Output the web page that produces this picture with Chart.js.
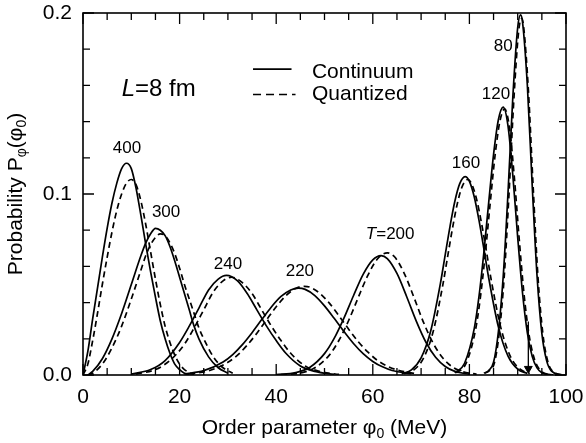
<!DOCTYPE html>
<html>
<head>
<meta charset="utf-8">
<script src="https://cdn.jsdelivr.net/npm/chart.js@4.4.1/dist/chart.umd.min.js"></script>
<style>
  html, body { margin: 0; padding: 0; background: #fff; }
  canvas { display: block; }
</style>
</head>
<body>
<canvas id="prob-chart" width="586" height="443"></canvas>
<script>
// Order-parameter probability P(phi0) for L = 8 fm, one peak per temperature T (MeV).
// "c" = continuum curve (solid), "q" = quantized curve (dashed).
const x400c = [0, 1, 2, 3, 4, 5, 6, 7, 8, 9, 10, 11, 12, 13, 14, 15, 16, 17, 18, 19, 20, 21, 22];
const y400c = [0, 0.013, 0.031, 0.048, 0.065, 0.081, 0.095, 0.106, 0.114, 0.117, 0.114, 0.103, 0.088, 0.072, 0.057, 0.043, 0.030, 0.020, 0.012, 0.006, 0.003, 0.001, 0];
const x400q = [0, 1, 2, 3, 4, 5, 6, 7, 8, 9, 10, 11, 12, 13, 14, 15, 16, 17, 18, 19, 20, 21, 23];
const y400q = [0, 0.006, 0.019, 0.034, 0.050, 0.065, 0.079, 0.091, 0.100, 0.106, 0.108, 0.105, 0.096, 0.083, 0.068, 0.053, 0.039, 0.027, 0.018, 0.011, 0.006, 0.003, 0];

const x300c = [1, 2, 4, 6, 8, 10, 12, 13, 14, 15, 16, 17, 18, 19, 20, 21, 22, 23, 24, 26, 28, 30];
const y300c = [0, 0.002, 0.009, 0.020, 0.034, 0.050, 0.066, 0.073, 0.078, 0.081, 0.080, 0.077, 0.071, 0.063, 0.054, 0.045, 0.036, 0.027, 0.020, 0.010, 0.004, 0.001];
const x300q = [1, 2, 4, 6, 8, 10, 12, 13, 14, 15, 16, 17, 18, 19, 20, 21, 22, 23, 24, 25, 27, 29, 31];
const y300q = [0, 0.001, 0.006, 0.015, 0.027, 0.042, 0.058, 0.066, 0.072, 0.076, 0.078, 0.077, 0.073, 0.067, 0.059, 0.050, 0.042, 0.034, 0.026, 0.020, 0.010, 0.004, 0.001];

const x240c = [10, 14, 17, 20, 22, 24, 26, 28, 29.7, 32, 34, 36, 38, 40, 42, 45, 48, 52];
const y240c = [0.0005, 0.003, 0.008, 0.018, 0.027, 0.037, 0.047, 0.053, 0.055, 0.052, 0.045, 0.036, 0.027, 0.019, 0.012, 0.005, 0.002, 0.0003];
const x240q = [11, 15, 18, 21, 23, 25, 27, 29, 30.8, 33, 35, 37, 39, 41, 43, 46, 49, 53];
const y240q = [0.0005, 0.003, 0.008, 0.017, 0.026, 0.036, 0.046, 0.052, 0.054, 0.051, 0.045, 0.036, 0.027, 0.019, 0.012, 0.005, 0.002, 0.0003];

const x220c = [21, 25, 29, 31, 33, 35, 37, 39, 41, 43, 44.6, 46, 48, 50, 52, 54, 56, 58, 60, 62, 64, 68];
const y220c = [0.0006, 0.0024, 0.0072, 0.0113, 0.0168, 0.0234, 0.0306, 0.0376, 0.0434, 0.047, 0.048, 0.0473, 0.0439, 0.0382, 0.0313, 0.0241, 0.0174, 0.0118, 0.0075, 0.0045, 0.0025, 0.0007];
const x220q = [22, 26, 30, 32, 34, 36, 38, 40, 42, 44, 45.8, 47, 49, 51, 53, 55, 57, 59, 61, 63, 65, 69];
const y220q = [0.0005, 0.0023, 0.007, 0.011, 0.0165, 0.0231, 0.0305, 0.0377, 0.0438, 0.0478, 0.049, 0.0485, 0.0452, 0.0397, 0.0327, 0.0253, 0.0184, 0.0126, 0.008, 0.0049, 0.0028, 0.0007];

const x200c = [40, 44, 47, 50, 52, 54, 56, 58, 60, 61.7, 63, 65, 67, 69, 71, 73, 75, 77, 80];
const y200c = [0.0002, 0.0013, 0.0043, 0.0118, 0.0202, 0.0313, 0.0438, 0.0556, 0.0636, 0.066, 0.0643, 0.0561, 0.0434, 0.0298, 0.0181, 0.0098, 0.0047, 0.002, 0.0004];
const x200q = [41, 45, 48, 51, 53, 55, 57, 59, 61, 63, 64.5, 66.5, 68.5, 70.5, 72.5, 74.5, 76.5, 78.5, 81.5];
const y200q = [0.0002, 0.0011, 0.004, 0.011, 0.0192, 0.0301, 0.0429, 0.0552, 0.0642, 0.0675, 0.0653, 0.0562, 0.043, 0.0291, 0.0175, 0.0094, 0.0044, 0.0019, 0.0004];

const x160c = [66, 68, 70, 72, 74, 75, 76, 77, 78, 79.1, 80, 81, 82, 83, 84, 86, 88, 90, 92];
const y160c = [0.0007, 0.0028, 0.0094, 0.0244, 0.0506, 0.0665, 0.0823, 0.0961, 0.1057, 0.1096, 0.107, 0.0985, 0.0853, 0.0697, 0.0536, 0.0266, 0.0104, 0.0032, 0.0008];
const x160q = [66.5, 68.5, 70.5, 72.5, 74.5, 75.5, 76.5, 77.5, 78.5, 79.7, 80.5, 81.5, 82.5, 83.5, 84.5, 86.5, 88.5, 90.5, 92.5];
const y160q = [0.0007, 0.0028, 0.0093, 0.024, 0.0498, 0.0655, 0.0811, 0.0947, 0.1041, 0.108, 0.1054, 0.097, 0.084, 0.0687, 0.0528, 0.0262, 0.0102, 0.0032, 0.0008];

const x120c = [77, 79, 81, 82, 83, 84, 85, 86, 87, 88, 89, 90, 91, 92, 93, 94, 95, 97];
const y120c = [0.0011, 0.0065, 0.0256, 0.0437, 0.0678, 0.0954, 0.1218, 0.141, 0.148, 0.1375, 0.110, 0.076, 0.0453, 0.0233, 0.0103, 0.0039, 0.0013, 0.0001];
const x120q = [77.3, 79.3, 81.3, 82.3, 83.3, 84.3, 85.3, 86.3, 87.3, 88.3, 89.3, 90.3, 91.3, 92.3, 93.3, 94.3, 95.3, 97.3];
const y120q = [0.0011, 0.0064, 0.0254, 0.0434, 0.0673, 0.0948, 0.121, 0.140, 0.147, 0.1366, 0.1093, 0.0755, 0.045, 0.0231, 0.0102, 0.0039, 0.0013, 0.0001];

const x80c = [83, 84, 85, 86, 87, 88, 89, 90, 90.6, 91, 92, 93, 94, 95, 96, 97, 99];
const y80c = [0.001, 0.0025, 0.007, 0.0239, 0.0544, 0.101, 0.154, 0.192, 0.199, 0.195, 0.160, 0.105, 0.055, 0.023, 0.0078, 0.0021, 0.0001];
const x80q = [83.2, 84.2, 85.2, 86.2, 87.2, 88.2, 89.2, 90.2, 90.8, 91.2, 92.2, 93.2, 94.2, 95.2, 96.2, 97.2, 99.2];
const y80q = [0.001, 0.0025, 0.0069, 0.0237, 0.054, 0.1, 0.152, 0.19, 0.197, 0.193, 0.158, 0.104, 0.054, 0.023, 0.0077, 0.0021, 0.0001];

// small down arrow near the 80 MeV peak
const arrowX = [92.2, 92.2];
const arrowY = [0.0295, 0.0035];

// peak labels (T in MeV) and where they sit, in data units
const peakText = ['400', '300', '240', '220', 'T=200', '160', '120', '80'];
const peakX = [9.1, 17.2, 30.0, 44.9, 63.6, 79.3, 85.5, 87.0];
const peakY = [0.1254, 0.090, 0.0613, 0.0575, 0.0779, 0.1171, 0.1552, 0.1818];

const xTicks = [0, 20, 40, 60, 80, 100];
const yTicks = [0.0, 0.1, 0.2];

const FONT = '"Liberation Sans", Arial, Helvetica, sans-serif';

const curves = [
  [x400c, y400c, x400q, y400q],
  [x300c, y300c, x300q, y300q],
  [x240c, y240c, x240q, y240q],
  [x220c, y220c, x220q, y220q],
  [x200c, y200c, x200q, y200q],
  [x160c, y160c, x160q, y160q],
  [x120c, y120c, x120q, y120q],
  [x80c, y80c, x80q, y80q]
];

const pts = (xs, ys) => xs.map((x, i) => ({ x: x, y: ys[i] }));

const datasets = [];
curves.forEach(([xc, yc, xq, yq]) => {
  datasets.push({ data: pts(xc, yc), borderColor: '#000', borderWidth: 1.7 });
  datasets.push({ data: pts(xq, yq), borderColor: '#000', borderWidth: 1.7, borderDash: [6, 4] });
});
datasets.push({
  data: pts(arrowX, arrowY),
  borderColor: '#000',
  borderWidth: 1.3,
  cubicInterpolationMode: 'default',
  tension: 0,
  pointStyle: 'triangle',
  pointRotation: 180,
  pointRadius: [0, 4.5],
  pointBackgroundColor: '#000',
  pointBorderColor: '#000',
  pointBorderWidth: 1
});

// frame, inward ticks, axis titles, legend and labels
const decor = {
  id: 'decor',
  afterDatasetsDraw(chart) {
    const { ctx, chartArea: a, scales: { x, y } } = chart;
    ctx.save();
    ctx.strokeStyle = '#000';
    ctx.fillStyle = '#000';
    ctx.lineWidth = 1.6;
    ctx.strokeRect(a.left, a.top, a.right - a.left, a.bottom - a.top);

    ctx.lineWidth = 1.3;
    ctx.beginPath();
    for (let v = 0; v <= 100; v += 5) {
      const px = x.getPixelForValue(v);
      const len = v % 20 === 0 ? 11 : 7;
      ctx.moveTo(px, a.bottom); ctx.lineTo(px, a.bottom - len);
      ctx.moveTo(px, a.top); ctx.lineTo(px, a.top + len);
    }
    for (let i = 0; i <= 10; i++) {
      const py = y.getPixelForValue(i * 0.02);
      const len = i % 5 === 0 ? 11 : 7;
      ctx.moveTo(a.left, py); ctx.lineTo(a.left + len, py);
      ctx.moveTo(a.right, py); ctx.lineTo(a.right - len, py);
    }
    ctx.stroke();

    // draws a run of [text, size, dy, italic] pieces from (x0, y0) along the baseline
    const run = (parts, x0, y0, measureOnly) => {
      let cx = x0;
      parts.forEach(([t, size, dy, it]) => {
        ctx.font = (it ? 'italic ' : '') + size + 'px ' + FONT;
        if (!measureOnly) ctx.fillText(t, cx, y0 + dy);
        cx += ctx.measureText(t).width;
      });
      return cx - x0;
    };
    ctx.textBaseline = 'alphabetic';
    ctx.textAlign = 'left';

    // x title
    const xt = [['Order parameter \u03c6', 21, 0], ['0', 14, 4], [' (MeV)', 21, 0]];
    const xw = run(xt, 0, 0, true);
    run(xt, (a.left + a.right) / 2 - xw / 2, 434);

    // y title, rotated
    const yt = [['Probability P', 21, 0], ['\u03c6', 14, 4], ['(\u03c6', 21, 0], ['0', 14, 4], [')', 21, 0]];
    const yw = run(yt, 0, 0, true);
    ctx.save();
    ctx.translate(22, (a.top + a.bottom) / 2);
    ctx.rotate(-Math.PI / 2);
    run(yt, -yw / 2, 0);
    ctx.restore();

    // L = 8 fm
    run([['L', 24, 0, true], ['=8 fm', 24, 0]], x.getPixelForValue(8), y.getPixelForValue(0.154));

    // legend
    const lx0 = x.getPixelForValue(35.2), lx1 = x.getPixelForValue(44.0);
    const ly1 = y.getPixelForValue(0.169), ly2 = y.getPixelForValue(0.155);
    ctx.lineWidth = 1.6;
    ctx.beginPath(); ctx.moveTo(lx0, ly1); ctx.lineTo(lx1 - 4, ly1); ctx.stroke();
    ctx.setLineDash([8, 5]);
    ctx.beginPath(); ctx.moveTo(lx0, ly2); ctx.lineTo(lx1, ly2); ctx.stroke();
    ctx.setLineDash([]);
    const tx = x.getPixelForValue(47.4);
    run([['Continuum', 21, 0]], tx, ly1 + 8.5);
    run([['Quantized', 21, 0]], tx, ly2 + 6);

    // peak labels
    ctx.textBaseline = 'middle';
    peakText.forEach((t, i) => {
      const parts = t.startsWith('T') ? [['T', 17, 0, true], [t.slice(1), 17, 0]] : [[t, 17, 0]];
      const w = run(parts, 0, 0, true);
      run(parts, x.getPixelForValue(peakX[i]) - w / 2, y.getPixelForValue(peakY[i]));
    });
    ctx.restore();
  }
};

new Chart(document.getElementById('prob-chart'), {
  type: 'line',
  data: { datasets: datasets },
  options: {
    responsive: false,
    animation: false,
    layout: { padding: { left: 0, right: 20, top: 13, bottom: 0 } },
    plugins: { legend: { display: false }, tooltip: { enabled: false } },
    elements: {
      point: { radius: 0 },
      line: { cubicInterpolationMode: 'monotone', fill: false }
    },
    scales: {
      x: {
        type: 'linear',
        min: 0,
        max: 100,
        grid: { display: false, drawTicks: false },
        border: { display: false },
        afterBuildTicks: s => { s.ticks = xTicks.map(v => ({ value: v })); },
        ticks: { padding: 10, color: '#000', maxRotation: 0, font: { size: 21, family: FONT } },
        afterFit: s => { s.height = 68; s.paddingLeft = 0; s.paddingRight = 0; }
      },
      y: {
        type: 'linear',
        min: 0,
        max: 0.2,
        grid: { display: false, drawTicks: false },
        border: { display: false },
        afterBuildTicks: s => { s.ticks = yTicks.map(v => ({ value: v })); },
        ticks: { padding: 11, color: '#000', callback: v => v.toFixed(1), font: { size: 21, family: FONT } },
        afterFit: s => { s.width = 83; s.paddingTop = 0; s.paddingBottom = 0; }
      }
    }
  },
  plugins: [decor]
});
</script>
</body>
</html>
